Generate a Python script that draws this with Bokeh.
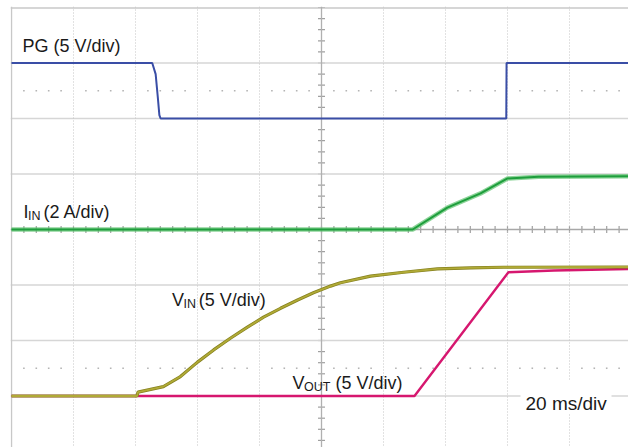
import numpy as np
from bokeh.plotting import figure
from bokeh.models import Range1d, Span, Label
from bokeh.embed import file_html
from bokeh.resources import INLINE

# ---- data (time in ms, 20 ms/div) ----
pg_t = [0, 45.4, 46.5, 47.2, 47.7, 48.1, 159.6, 159.7, 200]
pg_v = [5, 5, 4.0, 1.9, 0.3, 0, 0, 5, 5]            # PG, 5 V/div

iin_t = [0, 129.4, 140.6, 151.3, 160.0, 170, 200]
iin_a = [0, 0, 0.79, 1.30, 1.84, 1.90, 1.92]        # IIN, 2 A/div

vin_t = [0, 40.5, 40.8, 49.0, 54.5, 60.0, 65.2, 70.6, 76.1, 81.3, 86.8, 92.3,
         97.4, 102.9, 106.1, 115.8, 126.5, 137.4, 148.1, 158.7, 200]
vin_v = [0, 0, 0.35, 0.85, 1.75, 3.05, 4.15, 5.2, 6.2, 7.1, 7.9, 8.65,
         9.3, 9.9, 10.2, 10.8, 11.15, 11.45, 11.55, 11.6, 11.62]   # VIN, 5 V/div

vout_t = [0, 40, 130.0, 160.3, 175, 200]
vout_v = [0, 0, 0, 11.15, 11.3, 11.45]              # VOUT, 5 V/div

# ---- figure geometry ----
W, H = 628, 447
LB, TB = 10, 6
PXMS = 3.1          # px per ms  (62 px / 20 ms)
PXDIV = 55.5        # px per division
X0 = (LB - 11) / PXMS
X1 = X0 + (W - LB) / PXMS
D1 = (229 - TB) / PXDIV
D0 = D1 - (H - TB) / PXDIV

p = figure(width=W, height=H, output_backend="svg", toolbar_location=None,
           x_range=Range1d(X0, X1), y_range=Range1d(D0, D1),
           min_border=0, min_border_left=LB, min_border_top=TB)
p.axis.visible = False
p.grid.visible = False
p.outline_line_color = None
p.background_fill_color = "white"
p.border_fill_color = "white"

# channel scales (offset in divisions, units per division)
p.extra_y_ranges = {
    "pg": Range1d((D0 - 2) * 5, (D1 - 2) * 5),
    "iin": Range1d(D0 * 2, D1 * 2),
    "v": Range1d((D0 + 3) * 5, (D1 + 3) * 5),
}

def tx(px):  # reference page x -> ms
    return X0 + (px - LB) / PXMS
def dy(py):  # reference page y -> div
    return D1 - (py - TB) / PXDIV

# ---- graticule ----
GRID = "#d6d6d6"
def span(loc, dim, **kw):
    p.add_layout(Span(location=loc, dimension=dim, level="underlay", **kw))

for d in [3, 2, 1, -1, -2, -3, -4]:
    span(d, "width", line_color=GRID, line_width=1.6)
span(3.99, "width", line_color="#c8c8c8", line_width=1.6)
span(0, "height", line_color="#c8c8c8", line_width=1.4)
for t in [20, 40, 60, 80, 120, 140, 160, 180, 200]:
    span(t, "height", line_color="#c4c4c4", line_width=1, line_dash="1 2")
span(0, "width", line_color="#a8a8a8", line_width=1.3)
span(100, "height", line_color="#b0b0b0", line_width=1.3)

mt = np.arange(4, 200, 4)
p.scatter(mt, np.zeros_like(mt), marker="dash", size=7, angle=np.pi / 2,
          line_color="#a0a0a0", line_width=1.2, level="underlay")
md = np.arange(-4.0, 4.01, 0.2)
p.scatter(np.full_like(md, 100), md, marker="dash", size=7,
          line_color="#a0a0a0", line_width=1.2, level="underlay")
dt = np.array([t for t in mt if t % 20 != 0])
for d in [2.5, -2.5]:
    p.scatter(dt, np.full(len(dt), d), marker="square", size=1.6,
              fill_color="#b4b4b4", line_color=None, level="underlay")

# white box behind timebase label
p.quad(left=[tx(520)], right=[tx(611)], bottom=[dy(413)], top=[dy(380)],
       fill_color="white", line_color=None)

# ---- traces ----
p.line(vout_t, vout_v, y_range_name="v", line_color="#d6176f", line_width=2.4)
p.line(vin_t, vin_v, y_range_name="v", line_color="#85801f", line_width=3.2)
p.line(vin_t, vin_v, y_range_name="v", line_color="#b0aa36", line_width=1.8)
p.line(iin_t, iin_a, y_range_name="iin", line_color="#5cc26e", line_width=4.5, line_alpha=0.7)
p.line(iin_t, iin_a, y_range_name="iin", line_color="#1e9e3c", line_width=2.0)
p.line(pg_t, pg_v, y_range_name="pg", line_color="#3a4ea6", line_width=2)

# ---- labels ----
FONT = "Liberation Sans"
TC = "#1a1a1a"
def lab(text, px, py, size, color=TC):
    p.add_layout(Label(x=tx(px), y=dy(py), text=text, text_font=FONT,
                       text_font_size=f"{size}px", text_color=color,
                       text_baseline="alphabetic", text_align="left"))

lab("PG (5 V/div)", 22, 45, 18)
lab("I", 23, 211.7, 18)
lab("IN", 27.5, 215.7, 12.5)
lab("(2 A/div)", 43, 211.7, 18)
lab("V", 171.5, 299.3, 18)
lab("IN", 183, 303, 12.5)
lab("(5 V/div)", 198.3, 299.3, 18)
lab("V", 292, 382.7, 18)
lab("OUT", 303.5, 386.5, 12.5)
lab("(5 V/div)", 335, 382.7, 18)
lab("20 ms/div", 525, 403.3, 19)

# channel ground markers at the left edge
lab("3", 4, 121, 7, "#3a4ea6")
lab("4", 4, 232, 7, "#2fae4a")
lab("1", 4, 391, 7, "#e8a040")

open("out.html", "w").write(file_html(p, INLINE))
